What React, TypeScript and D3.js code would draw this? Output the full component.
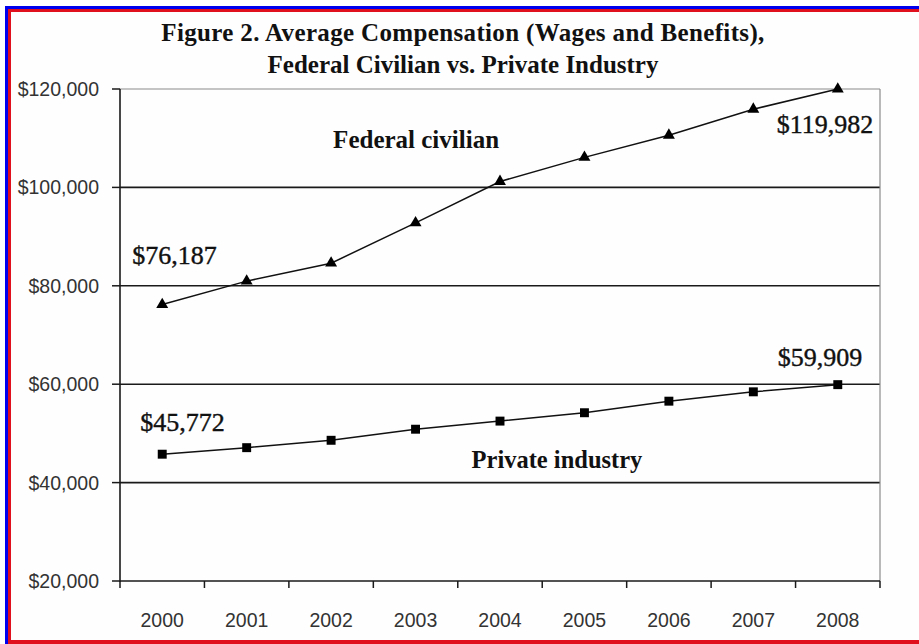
import * as d3 from 'd3';

// chart data
const years = ['2000', '2001', '2002', '2003', '2004', '2005', '2006', '2007', '2008'];
const federalCivilian = [76187, 80950, 84600, 92800, 101200, 106100, 110600, 115900, 119982];
const privateIndustry = [45772, 47100, 48600, 50850, 52500, 54200, 56550, 58450, 59909];
const yTicks = [20000, 40000, 60000, 80000, 100000, 120000];
const titleLines = [
  'Figure 2. Average Compensation (Wages and Benefits),',
  'Federal Civilian vs. Private Industry',
];

const W = 919;
const H = 644;
const margin = { top: 89, right: 39, bottom: 63, left: 120 };

const App = () => {
  const x = d3.scaleBand<string>().domain(years).range([margin.left, W - margin.right]).padding(0);
  const y = d3.scaleLinear().domain([20000, 120000]).range([H - margin.bottom, margin.top]);
  const cx = (yr: string) => (x(yr) as number) + x.bandwidth() / 2;

  const line = d3
    .line<number>()
    .x((_, i) => cx(years[i]))
    .y((d) => y(d));

  const tri = d3.symbol().type(d3.symbolTriangle).size(62)() as string;
  const sq = d3.symbol().type(d3.symbolSquare).size(80)() as string;
  const fmt = d3.format('$,');

  const x0 = x.range()[0];
  const x1 = x.range()[1];
  const yBottom = y(20000);
  const yTop = y(120000);
  const last = years.length - 1;

  const serif = '"Liberation Serif", "Times New Roman", serif';
  const sans = '"Liberation Sans", Arial, sans-serif';

  return (
    <svg width={W} height={H} style={{ position: 'absolute', left: 0, top: 0 }}>
      <rect x={0} y={0} width={W} height={H} fill="#ffffff" />
      {/* frame of the picture */}
      <rect x={8} y={9} width={W - 8} height={H - 9} fill="#fefefe" />
      <line x1={5} x2={W} y1={7.5} y2={7.5} stroke="#0000ee" strokeWidth={3} />
      <line x1={6.5} x2={6.5} y1={6} y2={H} stroke="#0000ee" strokeWidth={3} />
      <line x1={8} x2={W} y1={10.5} y2={10.5} stroke="#e0101c" strokeWidth={3} />
      <line x1={9.5} x2={9.5} y1={9} y2={H} stroke="#e0101c" strokeWidth={3} />
      <line x1={8} x2={W} y1={642} y2={642} stroke="#e0101c" strokeWidth={4} />

      {/* title */}
      {titleLines.map((t, i) => (
        <text
          key={t}
          x={463}
          y={41 + i * 32}
          textAnchor="middle"
          fontFamily={serif}
          fontWeight="bold"
          fontSize={25}
          letterSpacing={i === 0 ? 0.35 : 0}
          fill="#111"
        >
          {t}
        </text>
      ))}

      {/* grid + frame of plot */}
      {yTicks.map((t) => (
        <g key={t}>
          {t > 20000 && t < 120000 && (
            <line x1={x0} x2={x1} y1={y(t)} y2={y(t)} stroke="#1a1a1a" strokeWidth={1.6} />
          )}
          <line x1={x0 - 8} x2={x0} y1={y(t)} y2={y(t)} stroke="#1a1a1a" strokeWidth={1.5} />
          <text
            x={99}
            y={y(t)}
            dy="0.36em"
            textAnchor="end"
            fontFamily={sans}
            fontSize={19.5}
            fill="#333"
          >
            {fmt(t)}
          </text>
        </g>
      ))}
      <line x1={x0} x2={x1} y1={yTop} y2={yTop} stroke="#8a8a8a" strokeWidth={1.2} />
      <line x1={x1} x2={x1} y1={yTop} y2={yBottom} stroke="#8a8a8a" strokeWidth={1.2} />
      <line x1={x0} x2={x0} y1={yTop} y2={yBottom + 1} stroke="#1a1a1a" strokeWidth={1.6} />
      <line x1={x0} x2={x1} y1={yBottom} y2={yBottom} stroke="#1a1a1a" strokeWidth={1.6} />
      {years.map((yr) => (
        <line
          key={'t' + yr}
          x1={x(yr) as number}
          x2={x(yr) as number}
          y1={yBottom}
          y2={yBottom + 7}
          stroke="#1a1a1a"
          strokeWidth={1.5}
        />
      ))}
      <line x1={x1} x2={x1} y1={yBottom} y2={yBottom + 7} stroke="#1a1a1a" strokeWidth={1.5} />
      {years.map((yr) => (
        <text
          key={'l' + yr}
          x={cx(yr)}
          y={627}
          textAnchor="middle"
          fontFamily={sans}
          fontSize={19.5}
          fill="#333"
        >
          {yr}
        </text>
      ))}

      {/* series */}
      <path d={line(federalCivilian) as string} fill="none" stroke="#111" strokeWidth={1.5} />
      <path d={line(privateIndustry) as string} fill="none" stroke="#111" strokeWidth={1.5} />
      {federalCivilian.map((v, i) => (
        <path key={'f' + i} d={tri} transform={`translate(${cx(years[i])},${y(v)})`} fill="#000" />
      ))}
      {privateIndustry.map((v, i) => (
        <path key={'p' + i} d={sq} transform={`translate(${cx(years[i])},${y(v)})`} fill="#000" />
      ))}

      {/* series labels */}
      <text x={cx('2002') + 2} y={y(108000)} fontFamily={serif} fontWeight="bold" fontSize={25} fill="#111">
        Federal civilian
      </text>
      <text x={cx('2003') + 56} y={y(43000)} fontFamily={serif} fontWeight="bold" fontSize={24.5} fill="#111">
        Private industry
      </text>

      {/* value labels */}
      <g fontFamily={serif} fontSize={26} fill="#111" stroke="#111" strokeWidth={0.4}>
        <text x={cx(years[0]) - 30} y={y(federalCivilian[0]) - 41}>{fmt(federalCivilian[0])}</text>
        <text x={cx(years[0]) - 22} y={y(privateIndustry[0]) - 23}>{fmt(privateIndustry[0])}</text>
        <text x={cx(years[last]) - 61} y={y(federalCivilian[last]) + 44}>{fmt(federalCivilian[last])}</text>
        <text x={cx(years[last]) - 60} y={y(privateIndustry[last]) - 19}>{fmt(privateIndustry[last])}</text>
      </g>
    </svg>
  );
};

export default App;
